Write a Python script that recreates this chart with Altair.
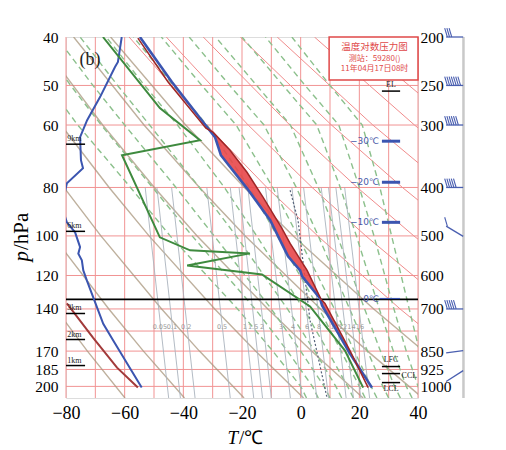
import altair as alt
import pandas as pd

# ---------------- axes / grid ----------------
T_TICKS = [-80, -60, -40, -20, 0, 20, 40]
ISOTHERMS = [-80, -70, -60, -50, -40, -30, -20, -10, 0, 10, 20, 30, 40]
P_TICKS = [200, 250, 300, 400, 500, 600, 700, 850, 925, 1000]
ISOBARS = [250, 300, 400, 500, 600, 700, 775, 850, 925, 1000]

# ---------------- sounding curves ----------------
ENV_P = [200, 246.1, 304.4, 317.2, 344.8, 401.6, 465.3, 534.4, 549.5, 586.1, 602.6, 667.2, 688.9, 859.7, 1005.6]
ENV_T = [-54.8, -43.9, -31.6, -29.2, -27.2, -18.3, -10.4, -5.3, -4.3, -0.2, 0.5, 6.6, 7.3, 16.8, 24.3]

PAR_P = [201, 246.1, 304.4, 310.0, 336.9, 372.9, 418.5, 482.8, 517.6, 586.1, 670.2, 682.6, 847.9, 1005.6]
PAR_T = [-55.5, -45.2, -32.3, -29.9, -24.1, -18.3, -12.8, -6.4, -3.6, 2.2, 7.0, 8.3, 16.8, 23.0]

FILL_P = [310, 317, 345, 373, 402, 465, 534, 550, 586, 603, 667, 683, 760, 848]
FILL_ENV = [-29.9, -29.2, -27.2, -22.8, -18.3, -10.4, -5.3, -4.3, -0.2, 0.5, 6.6, 7.1, 11.2, 16.1]
FILL_PAR = [-29.9, -28.4, -22.8, -18.3, -14.8, -8.2, -2.2, -0.9, 2.2, 3.2, 6.8, 8.3, 12.3, 16.8]

DEW_P = [200, 277.5, 321.7, 344.8, 503.2, 534.4, 541.9, 572.8, 597.1, 692.0, 847.9, 1005.6]
DEW_T = [-67.4, -48.0, -34.3, -60.9, -48.0, -37.7, -17.3, -38.7, -13.2, 3.2, 15.1, 21.3]

LB_P = [200, 224.4, 229.6, 263.8, 293.4, 317.2, 352.8, 366.1, 392.4, 424.4, 454.8, 469.7, 491.8,
        526.5, 542.6, 559.7, 586.1, 613.8, 678.4, 749.5, 809.5, 1005]
LB_T = [-61.0, -62.3, -63.3, -68.4, -72.8, -75.2, -74.9, -74.2, -79.7, -81.0, -80.5, -79.7, -76.9,
        -75.2, -75.8, -74.6, -74.1, -72.9, -70.1, -67.3, -63.9, -54.2]

LR_P = [682, 798.5, 917.2, 1005.6]
LR_T = [-79.7, -70.8, -62.6, -55.5]

DOT_P = [405.2, 465.3, 738.3, 1055]
DOT_T = [-3.6, -0.9, 3.2, 9.0]

# ---------------- background diagrams ----------------
ADI_P = [200, 300, 400, 500, 700, 850, 1055]
BROWN_ADI = [
    [-153.2, -138.4, -126.9, -117.3, -101.5, -91.8, -80.2],
    [-140.6, -124.3, -111.5, -100.9, -83.5, -72.7, -59.9],
    [-127.9, -110.1, -96.1, -84.5, -65.4, -53.6, -39.6],
    [-115.3, -95.9, -80.7, -68.1, -47.4, -34.5, -19.3],
    [-102.7, -81.7, -65.3, -51.7, -29.3, -15.4, 1.0],
    [-90.0, -67.5, -49.9, -35.3, -11.2, 3.7, 21.3],
    [-77.4, -53.4, -34.5, -18.9, 6.8, 22.8, 41.6],
    [-64.8, -39.2, -19.2, -2.5, 24.9, 41.9],
]
RED_ADI = [
    [-58.5, -32.1, -11.5, 5.8, 33.9, 51.4],
    [-45.8, -17.9, 3.9, 22.2, 52.0],
    [-33.2, -3.7, 19.3, 38.6, 70.1],
    [-20.6, 10.5, 34.7, 55.0],
    [-8.0, 24.6, 50.1],
    [4.7, 38.8, 65.5],
    [17.3, 53.0],
    [29.9, 67.2],
]
MOIST_P = [1055, 1000, 850, 700, 500, 400, 300, 250, 200]
MOIST = [
    [2, 0, -9.5, -21.5, -44.5, -58, -76, -86, -97.6],
    [6, 4, -4.5, -15.5, -37, -50.5, -68, -78.4, -90.4],
    [10, 8, 0, -10, -29.5, -42.5, -60, -70.8, -83.3],
    [14, 12, 4.8, -4.5, -22, -34.5, -51.5, -62.4, -75.2],
    [18, 16, 9.3, 1, -15, -26, -42, -53.2, -66.3],
    [22, 20, 13.8, 6.3, -8, -17.5, -32, -43.4, -57],
    [26, 24, 18.3, 11.5, -1, -9.5, -22, -33.7, -47.5],
    [30, 28, 22.8, 16.7, 6, -1.5, -12.5, -24.2, -38],
    [34, 32, 27.2, 21.8, 12.5, 6, -3.5, -15, -29],
    [38, 36, 31.6, 26.8, 19, 13.5, 5.5, -6, -20],
    [42, 40, 36, 31.8, 25, 20, 13, 1.5, -12],
    [46, 44, 40.5, 37, 31, 27, 21, 10, -3],
]
MR_LABELS = ["0.05", "0.1", "0.2", "0.5", "1", "1.5", "2", "3", "4", "6", "8", "10", "12", "14", "16"]
MR_LAB_T = [-48, -43.9, -39, -26.8, -19, -16.2, -13.2, -6.7, -2.6, 2.2, 6.3, 11.5, 14.4, 17.3, 20.2]
MR_TOP_T = [-53, -49, -44, -32, -24, -21, -18, -12, -8, -3, 1, 7, 9.5, 12, 15]
MR_BOT_T = [-45, -41, -36, -24, -16, -13, -10, -3.5, 0.5, 5.5, 9.5, 15.5, 18, 20.5, 23.5]
MR_LAB_P = 759
MR_TOP_P = 400
MR_BOT_P = 1055

# ---------------- annotations ----------------
KM_LABELS = ["9km", "6km", "3km", "2km", "1km"]
KM_P = [327.7, 489.6, 714.8, 805.8, 908.5]

ISO_LABELS = ["\u221230\u2103", "\u221220\u2103", "\u221210\u2103", "0\u2103"]
ISO_P = [323.2, 390.5, 469.7, 667.2]

LVL_LABELS = ["EL", "LFC", "CCL", "LCL"]
LVL_TEXT_P = [249.6, 883.8, 951.5, 1010]
LVL_TEXT_T = [30.8, 30.8, 34.4, 30.8]
LVL_LINE_P = [256.6, 912.7, 942.7, 982.7]

BOX_LINES = ["\u6e29\u5ea6\u5bf9\u6570\u538b\u529b\u56fe", "\u6d4b\u7ad9\uff1a59280()", "11\u5e7404\u670817\u65e508\u65f6"]
BOX_LINE_P = [209.5, 221.3, 231.8]

BARB_P_RIGHT = [200, 250, 300, 400, 501, 700, 848, 930]
BARB_P_LEFT = [200, 250, 300, 400, 478, 700, 857, 978]
BARB_FEATHERS = [3, 7, 6, 5, 1, 5, 0, 0]

# ---------------- helpers ----------------
XS = alt.Scale(domain=[-80, 40], nice=False, zero=False)
YS = alt.Scale(type="log", domain=[200, 1055], reverse=True, nice=False)
SERIF = "Liberation Serif"
GRID = "#f19393"
BLUE = "#3b55b0"


def xe(f="T", axis=None):
    return alt.X(f, type="quantitative", scale=XS, axis=axis)


def ye(f="p", axis=None):
    return alt.Y(f, type="quantitative", scale=YS, axis=axis)


def lines_df(p_lists, t_lists):
    rows = []
    for k, (ps, ts) in enumerate(zip(p_lists, t_lists)):
        for i, (p, t) in enumerate(zip(ps, ts)):
            rows.append({"id": k, "i": i, "p": p, "T": t})
    return pd.DataFrame(rows)


def line_layer(df, color, width, dash=None, opacity=1.0, clip=True):
    kw = dict(color=color, strokeWidth=width, opacity=opacity, clip=clip)
    if dash:
        kw["strokeDash"] = dash
    return alt.Chart(df).mark_line(**kw).encode(x=xe(), y=ye(), detail="id:N", order="i:Q")


# ---------------- layers ----------------
x_axis = alt.Axis(orient="bottom", values=T_TICKS, format="d", title=None, grid=False, ticks=False, domain=False,
                  labelFont=SERIF, labelFontSize=18, labelColor="black", labelPadding=6, labelFlush=False)
yl_axis = alt.Axis(orient="left", values=P_TICKS, labelExpr="datum.value / 5", title=None, grid=False,
                   ticks=False, domain=False, labelFont=SERIF, labelFontSize=15.5, labelColor="black",
                   labelPadding=8, labelOverlap=False)
yr_axis = alt.Axis(orient="right", values=P_TICKS, format="d", title=None, grid=False, ticks=False,
                   domain=False, labelFont=SERIF, labelFontSize=15.5, labelColor="black", labelPadding=2,
                   labelOverlap=False)

iso = alt.Chart(pd.DataFrame({"T": ISOTHERMS})).mark_rule(color=GRID, strokeWidth=1).encode(x=xe("T", x_axis))
isob = alt.Chart(pd.DataFrame({"p": ISOBARS})).mark_rule(color=GRID, strokeWidth=1).encode(y=ye("p", yl_axis))
raxis = alt.Chart(pd.DataFrame({"p": P_TICKS})).mark_rule(opacity=0).encode(y=ye("p", yr_axis))

brown = line_layer(lines_df([ADI_P] * len(BROWN_ADI), BROWN_ADI), "#a8957c", 1.4, opacity=0.75)
red = line_layer(lines_df([ADI_P] * len(RED_ADI), RED_ADI), "#f08c8c", 1.0)
moist = line_layer(lines_df([MOIST_P] * len(MOIST), MOIST), "#8cc08c", 1.4, dash=[6, 4])
mr = line_layer(lines_df([[MR_TOP_P, MR_BOT_P]] * len(MR_TOP_T),
                         [[a, b] for a, b in zip(MR_TOP_T, MR_BOT_T)]), "#aab3bd", 0.9)
dotted = line_layer(lines_df([DOT_P], [DOT_T]), "#56637a", 1.2, dash=[2, 2])
mr_text = alt.Chart(pd.DataFrame({"T": MR_LAB_T, "p": [MR_LAB_P] * len(MR_LAB_T), "s": MR_LABELS})).mark_text(
    fontSize=6.5, color="#9a9a9a", font="DejaVu Sans").encode(x=xe(), y=ye(), text="s:N")

black_line = alt.Chart(pd.DataFrame({"p": [670]})).mark_rule(color="black", strokeWidth=1.8).encode(y=ye())

fill = alt.Chart(pd.DataFrame({"p": FILL_P, "Te": FILL_ENV, "Tp": FILL_PAR})).mark_area(
    orient="horizontal", fill="#e8474a", opacity=0.9).encode(
    y=ye(), x=xe("Te"), x2=alt.X2("Tp"))

lb = line_layer(lines_df([LB_P], [LB_T]), BLUE, 2.0)
lr = line_layer(lines_df([LR_P], [LR_T]), "#a23a3a", 2.0)
dew = line_layer(lines_df([DEW_P], [DEW_T]), "#3e8a3e", 2.0)
env = line_layer(lines_df([ENV_P], [ENV_T]), BLUE, 2.6)
par = line_layer(lines_df([PAR_P], [PAR_T]), "#9e2626", 1.5)

# height markers on the left
km_df = pd.DataFrame({"p": KM_P, "T": [-80] * 5, "T2": [-73.5] * 5, "Tt": [-79.6] * 5, "s": KM_LABELS})
km_lines = alt.Chart(km_df).mark_rule(color="black", strokeWidth=1.5).encode(x=xe("T"), x2=alt.X2("T2"), y=ye())
km_text = alt.Chart(km_df).mark_text(align="left", baseline="bottom", dy=-1, fontSize=8, font=SERIF,
                                     color="#222").encode(x=xe("Tt"), y=ye(), text="s:N")

# isotherm level markers on the right
iso_df = pd.DataFrame({"p": ISO_P, "T": [26.7] * 4, "T1": [27.7, 27.7, 27.7, 26.9], "T2": [33.9] * 4,
                       "w": [3, 3, 3, 1.2], "s": ISO_LABELS})
iso_bars = alt.Chart(iso_df).mark_rule(color=BLUE).encode(x=xe("T1"), x2=alt.X2("T2"), y=ye(),
                                                          strokeWidth=alt.StrokeWidth("w:Q", scale=None))
iso_text = alt.Chart(iso_df).mark_text(align="right", baseline="middle", fontSize=9, font="DejaVu Sans",
                                       color="#4a5aa8").encode(x=xe("T"), y=ye(), text="s:N")

# parcel levels
lvl_df = pd.DataFrame({"p": LVL_LINE_P, "T1": [27.7] * 4, "T2": [33.9] * 4})
lvl_lines = alt.Chart(lvl_df).mark_rule(color="black", strokeWidth=1.5).encode(x=xe("T1"), x2=alt.X2("T2"), y=ye())
lvl_tdf = pd.DataFrame({"p": LVL_TEXT_P, "T": LVL_TEXT_T, "s": LVL_LABELS,
                        "a": ["center", "center", "left", "center"]})
lvl_text_c = alt.Chart(lvl_tdf[lvl_tdf.a == "center"]).mark_text(
    align="center", baseline="middle", fontSize=8, font=SERIF, color="#222").encode(x=xe(), y=ye(), text="s:N")
lvl_text_l = alt.Chart(lvl_tdf[lvl_tdf.a == "left"]).mark_text(
    align="left", baseline="middle", fontSize=8, font=SERIF, color="#222").encode(x=xe(), y=ye(), text="s:N")

# title box
box = alt.Chart(pd.DataFrame({"T1": [9.7], "T2": [40], "p1": [200], "p2": [243.9]})).mark_rect(
    fill="white", stroke="#e04848", strokeWidth=1.5).encode(x=xe("T1"), x2=alt.X2("T2"), y=ye("p1"), y2=alt.Y2("p2"))
box_text = alt.Chart(pd.DataFrame({"p": BOX_LINE_P, "T": [25.2] * 3, "s": BOX_LINES,
                                   "f": [9.5, 8, 8]})).mark_text(
    align="center", baseline="middle", font="Noto Sans CJK SC", color="#e04848").encode(
    x=xe(), y=ye(), text="s:N", size=alt.Size("f:Q", scale=None))

panel = alt.Chart(pd.DataFrame({"T": [-71.8], "p": [222.4], "s": ["(b)"]})).mark_text(
    fontSize=18, font=SERIF, color="#222").encode(x=xe(), y=ye(), text="s:N")

# wind barbs (outside the plot on the right)
staff_df = pd.DataFrame({"T1": [49.6] * len(BARB_P_LEFT), "T2": [55.4] * len(BARB_P_LEFT),
                         "p1": BARB_P_LEFT, "p2": BARB_P_RIGHT})
staff = alt.Chart(staff_df).mark_rule(color="#4a5fb0", strokeWidth=1.3, clip=False).encode(
    x=xe("T1"), x2=alt.X2("T2"), y=ye("p1"), y2=alt.Y2("p2"))
fe_rows = []
for pl, n in zip(BARB_P_LEFT, BARB_FEATHERS):
    for k in range(n):
        t0 = 50.0 + k * 0.75
        fe_rows.append({"T1": t0, "T2": t0 - 0.9, "p1": pl, "p2": pl * 0.96})
feathers = alt.Chart(pd.DataFrame(fe_rows)).mark_rule(color="#4a5fb0", strokeWidth=1.1, clip=False).encode(
    x=xe("T1"), x2=alt.X2("T2"), y=ye("p1"), y2=alt.Y2("p2"))
pole = alt.Chart(pd.DataFrame({"T": [55.5], "p1": [200], "p2": [1055]})).mark_rule(
    color="#c9c9c9", strokeWidth=2.5, clip=False).encode(x=xe(), y=ye("p1"), y2=alt.Y2("p2"))

# axis titles
tt1 = alt.Chart(pd.DataFrame({"s": ["T"]})).mark_text(
    align="right", baseline="middle", fontSize=19, font=SERIF, fontStyle="italic", color="black").encode(
    x=alt.value(172), y=alt.value(401), text="s:N")
tt2 = alt.Chart(pd.DataFrame({"s": ["/\u2103"]})).mark_text(
    align="left", baseline="middle", fontSize=19, font=SERIF, color="black").encode(
    x=alt.value(173), y=alt.value(401), text="s:N")
pt1 = alt.Chart(pd.DataFrame({"s": ["p"]})).mark_text(
    align="right", baseline="middle", angle=270, fontSize=21, font=SERIF, fontStyle="italic", color="black").encode(
    x=alt.value(-44), y=alt.value(214), text="s:N")
pt2 = alt.Chart(pd.DataFrame({"s": ["/hPa"]})).mark_text(
    align="left", baseline="middle", angle=270, fontSize=21, font=SERIF, color="black").encode(
    x=alt.value(-44), y=alt.value(213), text="s:N")

chart = alt.layer(
    iso, isob, raxis, brown, red, moist, mr, dotted, mr_text, black_line,
    fill, lb, lr, dew, env, par,
    km_lines, km_text, iso_bars, iso_text, lvl_lines, lvl_text_c, lvl_text_l,
    box, box_text, panel, pole, staff, feathers, tt1, tt2, pt1, pt2,
).resolve_axis(x="independent", y="independent").properties(
    width=352, height=361,
    autosize=alt.AutoSizeParams(type="none"),
    padding={"left": 58, "top": 29, "right": 80, "bottom": 52},
).configure_view(stroke="#222", strokeWidth=1.5).configure(background="white")

chart.save("out.html", embed_options={"renderer": "svg", "actions": False})
